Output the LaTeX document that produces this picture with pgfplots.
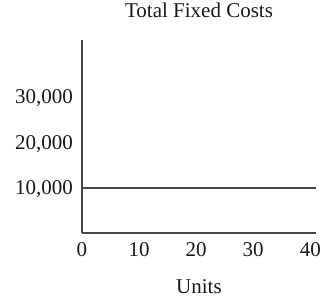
\documentclass[border=0pt]{standalone}
\usepackage{fontspec}
\setmainfont{Liberation Serif}
\usepackage{pgfplots}
\pgfplotsset{compat=1.18}
\begin{document}
\begin{tikzpicture}
\path[use as bounding box] (-82pt,-64pt) rectangle (245pt,233pt);
\begin{axis}[
  at={(0pt,0pt)}, anchor=south west,
  scale only axis, width=234pt, height=193pt,
  xmin=0, xmax=41, ymin=0, ymax=42600,
  axis lines=left,
  axis line style={-, line width=2pt, black!72},
  xtick={0,10,20,30,40},
  ytick={10000,20000,30000},
  major tick length=0pt,
  scaled y ticks=false,
  /pgf/number format/1000 sep={,},
  /pgf/number format/assume math mode=true,
  tick label style={font=\fontsize{21}{24}\selectfont, text=black!90},
  xticklabel style={anchor=base, yshift=-24pt, inner sep=0pt},
  yticklabel style={anchor=base east, yshift=-6.8pt, xshift=-9pt, inner sep=0pt},
  title={Total Fixed Costs},
  title style={at={(0.5,1)}, anchor=base, yshift=16pt, inner sep=0pt, font=\fontsize{21}{24}\selectfont, text=black!90},
  xlabel={Units},
  xlabel style={at={(0.5,0)}, anchor=base, yshift=-60pt, inner sep=0pt, font=\fontsize{21}{24}\selectfont, text=black!90},
  clip=false,
]
\addplot[line width=2pt, black!72] coordinates {(0,10000) (41,10000)};
\end{axis}
\end{tikzpicture}
\end{document}
